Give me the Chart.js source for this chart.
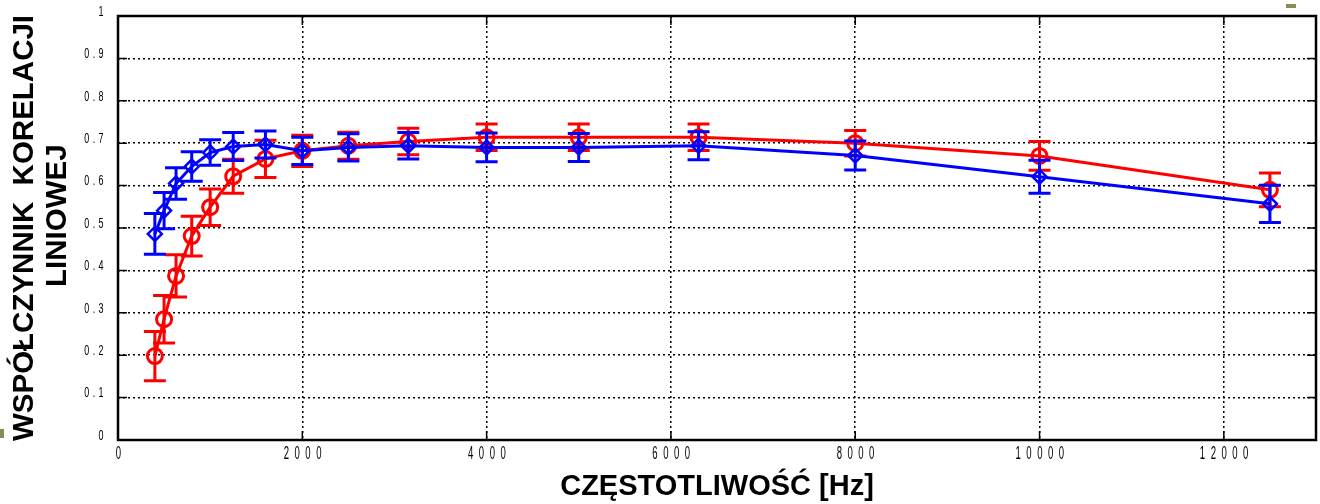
<!DOCTYPE html>
<html>
<head>
<meta charset="utf-8">
<script src="https://cdn.jsdelivr.net/npm/chart.js@4.4.1/dist/chart.umd.min.js"></script>
<style>
  body { margin: 0; background: #fff; }
  #wrap { position: relative; width: 1320px; height: 504px; }
  .mark { position: absolute; background: #8c8c50; }
</style>
</head>
<body>
<div id="wrap">
  <canvas id="corr" width="1320" height="504"></canvas>
  <div class="mark" style="left:1286px;top:4px;width:10px;height:4px"></div>
  <div class="mark" style="left:0;top:429px;width:4px;height:9px"></div>
</div>
<script>
// third-octave band centres [Hz]
const freqs = [400, 500, 630, 800, 1000, 1250, 1600, 2000, 2500, 3150, 4000, 5000, 6300, 8000, 10000, 12500];

// series 1 (blue, diamonds) mean and half-width of error bar
const blueVals = [0.486, 0.541, 0.605, 0.645, 0.678, 0.692, 0.697, 0.682, 0.690, 0.694, 0.690, 0.690, 0.694, 0.671, 0.621, 0.557];
const blueErr  = [0.048, 0.043, 0.037, 0.035, 0.030, 0.033, 0.032, 0.032, 0.032, 0.031, 0.034, 0.033, 0.033, 0.034, 0.039, 0.044];

// series 2 (red, circles)
const redVals = [0.198, 0.285, 0.387, 0.481, 0.549, 0.622, 0.663, 0.682, 0.694, 0.704, 0.714, 0.714, 0.714, 0.700, 0.670, 0.590];
const redErr  = [0.058, 0.056, 0.050, 0.047, 0.043, 0.040, 0.044, 0.037, 0.032, 0.031, 0.031, 0.031, 0.031, 0.030, 0.034, 0.040];

const xTickValues = [0, 2000, 4000, 6000, 8000, 10000, 12000];
const xTickLabels = ['0', '2 0 0 0', '4 0 0 0', '6 0 0 0', '8 0 0 0', '1 0 0 0 0', '1 2 0 0 0'];
const yTickValues = [0, 0.1, 0.2, 0.3, 0.4, 0.5, 0.6, 0.7, 0.8, 0.9, 1];
const yTickLabels = ['0', '0 . 1', '0 . 2', '0 . 3', '0 . 4', '0 . 5', '0 . 6', '0 . 7', '0 . 8', '0 . 9', '1'];

const sans = '"Liberation Sans", Arial, sans-serif';

function points(vals) {
    return freqs.map((f, i) => ({ x: f, y: vals[i] }));
}

// vertical error bars with caps, drawn right after each dataset
const errorBars = {
    id: 'errorBars',
    afterDatasetDraw(chart, args) {
        const ds = chart.data.datasets[args.index];
        if (!ds.errors) return;
        const xs = chart.scales.x, ys = chart.scales.y;
        const ctx = chart.ctx;
        ctx.save();
        ctx.strokeStyle = ds.borderColor;
        ctx.lineWidth = 3;
        ds.data.forEach((p, i) => {
            const px = xs.getPixelForValue(p.x);
            const top = ys.getPixelForValue(p.y + ds.errors[i]);
            const bot = ys.getPixelForValue(p.y - ds.errors[i]);
            ctx.beginPath();
            ctx.moveTo(px, top); ctx.lineTo(px, bot);
            ctx.moveTo(px - 11, top); ctx.lineTo(px + 11, top);
            ctx.moveTo(px - 11, bot); ctx.lineTo(px + 11, bot);
            ctx.stroke();
        });
        ctx.restore();
    }
};

// box round the plot area with short inward ticks on every side
const frame = {
    id: 'frame',
    beforeDatasetsDraw(chart) {
        const a = chart.chartArea, ctx = chart.ctx;
        const xs = chart.scales.x, ys = chart.scales.y;
        const len = 9;
        ctx.save();
        ctx.strokeStyle = '#000';
        ctx.lineWidth = 1.5;
        ctx.beginPath();
        xTickValues.slice(1).forEach(v => {
            const px = xs.getPixelForValue(v);
            ctx.moveTo(px, a.bottom); ctx.lineTo(px, a.bottom - len);
            ctx.moveTo(px, a.top); ctx.lineTo(px, a.top + len);
        });
        yTickValues.slice(1, -1).forEach(v => {
            const py = ys.getPixelForValue(v);
            ctx.moveTo(a.left, py); ctx.lineTo(a.left + len, py);
            ctx.moveTo(a.right, py); ctx.lineTo(a.right - len, py);
        });
        ctx.stroke();
        ctx.lineWidth = 2.5;
        ctx.strokeRect(a.left, a.top, a.right - a.left, a.bottom - a.top);
        ctx.restore();
    }
};

// condensed tick labels, placed from the scales
function drawLabel(ctx, text, x, y, sx, spacing) {
    ctx.save();
    ctx.translate(x, y);
    ctx.scale(sx, 1);
    ctx.letterSpacing = spacing + 'px';
    ctx.fillText(text, 0, 0);
    ctx.restore();
}

const tickText = {
    id: 'tickText',
    afterDraw(chart) {
        const a = chart.chartArea, ctx = chart.ctx;
        const xs = chart.scales.x, ys = chart.scales.y;
        ctx.save();
        ctx.fillStyle = '#000';
        ctx.textBaseline = 'top';
        ctx.textAlign = 'center';
        ctx.font = '18px ' + sans;
        xTickValues.forEach((v, i) => {
            drawLabel(ctx, xTickLabels[i], xs.getPixelForValue(v) + 1, a.bottom + 5, 0.53, 2.7);
        });
        ctx.textBaseline = 'middle';
        ctx.textAlign = 'right';
        ctx.font = '14px ' + sans;
        yTickValues.forEach((v, i) => {
            drawLabel(ctx, yTickLabels[i], a.left - 14, ys.getPixelForValue(v) - 4, 0.64, 0.7);
        });
        ctx.restore();
    }
};

const ctx = document.getElementById('corr').getContext('2d');
new Chart(ctx, {
    type: 'scatter',
    data: {
        datasets: [{
            data: points(blueVals),
            errors: blueErr,
            showLine: true,
            borderColor: '#0000ff',
            borderWidth: 3,
            pointStyle: 'rectRot',
            pointRadius: 7,
            pointBorderWidth: 2.5,
            pointBackgroundColor: 'rgba(0,0,0,0)',
            pointBorderColor: '#0000ff'
        }, {
            data: points(redVals),
            errors: redErr,
            showLine: true,
            borderColor: '#ff0000',
            borderWidth: 3,
            pointStyle: 'circle',
            pointRadius: 7.5,
            pointBorderWidth: 3,
            pointBackgroundColor: 'rgba(0,0,0,0)',
            pointBorderColor: '#ff0000'
        }]
    },
    options: {
        responsive: false,
        animation: false,
        devicePixelRatio: 1,
        layout: { autoPadding: false, padding: { top: 16, right: 4, left: 0, bottom: 0 } },
        plugins: { legend: { display: false }, tooltip: { enabled: false } },
        scales: {
            x: {
                type: 'linear',
                min: 0,
                max: 13000,
                afterBuildTicks: s => { s.ticks = xTickValues.map(v => ({ value: v })); },
                afterFit: s => { s.height = 64; s.paddingLeft = 0; s.paddingRight = 0; },
                ticks: { display: false },
                grid: {
                    drawTicks: false,
                    lineWidth: 1.5,
                    borderDash: [2, 3],
                    color: c => (c.tick && c.tick.value === 0) ? 'rgba(0,0,0,0)' : '#000'
                },
                border: { display: false, dash: [2, 3] },
                title: {
                    display: true,
                    text: 'CZĘSTOTLIWOŚĆ [Hz]',
                    color: '#000',
                    font: { family: sans, size: 29, weight: 'bold', lineHeight: 1.2 },
                    padding: { top: 0, bottom: 0 }
                }
            },
            y: {
                min: 0,
                max: 1,
                afterBuildTicks: s => { s.ticks = yTickValues.map(v => ({ value: v })); },
                afterFit: s => { s.width = 118; s.paddingTop = 0; s.paddingBottom = 0; },
                ticks: { display: false },
                grid: {
                    drawTicks: false,
                    lineWidth: 1.5,
                    borderDash: [2, 3],
                    color: c => (c.tick && (c.tick.value === 0 || c.tick.value === 1)) ? 'rgba(0,0,0,0)' : '#000'
                },
                border: { display: false, dash: [2, 3] },
                title: {
                    display: true,
                    text: ['WSPÓŁCZYNNIK  KORELACJI', '   LINIOWEJ'],
                    color: '#000',
                    font: { family: sans, size: 29.5, weight: 'bold', lineHeight: 1.12 },
                    padding: { top: 8.5, bottom: 0 }
                }
            }
        }
    },
    plugins: [errorBars, frame, tickText]
});
</script>
</body>
</html>
